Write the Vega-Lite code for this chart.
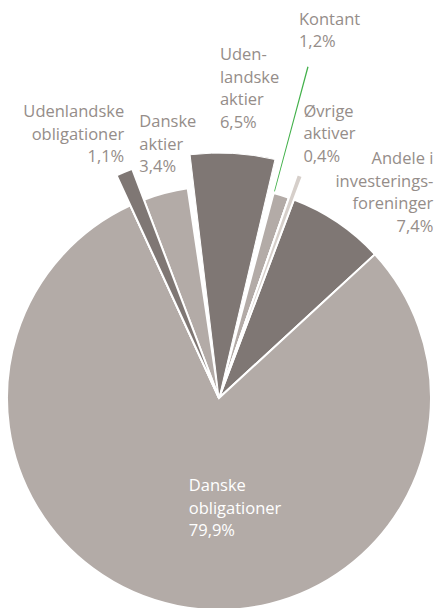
{
  "$schema": "https://vega.github.io/schema/vega-lite/v6.json",
  "width": 438,
  "height": 420,
  "autosize": {"type": "none"},
  "padding": {"top": 188, "left": 0, "right": 0, "bottom": 0},
  "background": "white",
  "config": {
    "view": {"stroke": null},
    "text": {"font": "Open Sans", "fontSize": 16.5, "lineHeight": 22.5, "lineBreak": "\n", "color": "#958d89", "baseline": "alphabetic"}
  },
  "data": {"values": [
    {"name": "Udenlandske aktier", "value": 6.5, "label": "Uden-\nlandske\naktier\n6,5%", "order": 1},
    {"name": "Kontant", "value": 1.2, "label": "Kontant\n1,2%", "order": 2},
    {"name": "Øvrige aktiver", "value": 0.4, "label": "Øvrige\naktiver\n0,4%", "order": 3},
    {"name": "Andele i investeringsforeninger", "value": 7.4, "label": "Andele i\ninvesterings-\nforeninger\n7,4%", "order": 4},
    {"name": "Danske obligationer", "value": 79.9, "label": "Danske\nobligationer\n79,9%", "order": 5},
    {"name": "Udenlandske obligationer", "value": 1.1, "label": "Udenlandske\nobligationer\n1,1%", "order": 6},
    {"name": "Danske aktier", "value": 3.4, "label": "Danske\naktier\n3,4%", "order": 7}
  ]},
  "encoding": {
    "theta": {"field": "value", "type": "quantitative", "stack": true, "scale": {"domain": [0, 99.9], "range": [-0.14835, 6.13484]}},
    "order": {"field": "order", "type": "quantitative"},
    "detail": {"field": "name", "type": "nominal"}
  },
  "layer": [
    {
      "mark": {"type": "arc", "outerRadius": 212, "stroke": "white", "strokeWidth": 2},
      "encoding": {
        "color": {"field": "name", "type": "nominal", "legend": null,
          "scale": {"domain": ["Udenlandske aktier", "Kontant", "Øvrige aktiver", "Andele i investeringsforeninger", "Danske obligationer", "Udenlandske obligationer", "Danske aktier"],
                    "range": ["#7f7774", "#b3aba7", "#d6cfca", "#7f7774", "#b3aba7", "#7f7774", "#b3aba7"]}},
        "opacity": {"condition": {"test": "datum.name === 'Udenlandske aktier'", "value": 0}, "value": 1}
      }
    },
    {
      "mark": {"type": "arc", "outerRadius": 245, "stroke": "white", "strokeWidth": 2},
      "encoding": {
        "color": {"field": "name", "type": "nominal", "legend": null},
        "opacity": {"condition": {"test": "datum.name === 'Udenlandske obligationer'", "value": 1}, "value": 0}
      }
    },
    {
      "mark": {"type": "arc", "outerRadius": 245, "padAngle": 0.06, "stroke": "white", "strokeWidth": 1},
      "encoding": {
        "color": {"field": "name", "type": "nominal", "legend": null},
        "opacity": {"condition": {"test": "datum.name === 'Udenlandske aktier'", "value": 1}, "value": 0}
      }
    },
    {
      "mark": {"type": "arc", "outerRadius": 237, "stroke": "white", "strokeWidth": 2},
      "encoding": {
        "color": {"field": "name", "type": "nominal", "legend": null},
        "opacity": {"condition": {"test": "datum.name === 'Øvrige aktiver'", "value": 1}, "value": 0}
      }
    },
    {
      "transform": [{"filter": "datum.name === 'Kontant'"}],
      "mark": {"type": "arc", "innerRadius": 214, "outerRadius": 343, "color": "#43b14b"},
      "encoding": {
        "theta": {"datum": 6.5},
        "theta2": {"datum": 6.56}
      }
    },
    {
      "mark": {"type": "text", "radius": 297, "dx": 20, "dy": -7, "align": "right"},
      "encoding": {"text": {"condition": {"test": "datum.name === 'Udenlandske obligationer'", "field": "label", "type": "nominal"}, "value": ""}}
    },
    {
      "mark": {"type": "text", "radius": 282, "dx": -8.5, "dy": 2, "align": "left"},
      "encoding": {"text": {"condition": {"test": "datum.name === 'Danske aktier'", "field": "label", "type": "nominal"}, "value": ""}}
    },
    {
      "mark": {"type": "text", "radius": 338, "dx": -18, "dy": -0.5, "align": "left"},
      "encoding": {"text": {"condition": {"test": "datum.name === 'Udenlandske aktier'", "field": "label", "type": "nominal"}, "value": ""}}
    },
    {
      "mark": {"type": "text", "radius": 381, "dx": -32, "dy": -9, "align": "left"},
      "encoding": {"text": {"condition": {"test": "datum.name === 'Kontant'", "field": "label", "type": "nominal"}, "value": ""}}
    },
    {
      "mark": {"type": "text", "radius": 294, "dx": -16, "dy": -5, "align": "left"},
      "encoding": {"text": {"condition": {"test": "datum.name === 'Øvrige aktiver'", "field": "label", "type": "nominal"}, "value": ""}}
    },
    {
      "mark": {"type": "text", "radius": 317, "dx": 37, "dy": 29, "align": "right"},
      "encoding": {"text": {"condition": {"test": "datum.name === 'Andele i investeringsforeninger'", "field": "label", "type": "nominal"}, "value": ""}}
    },
    {
      "mark": {"type": "text", "radius": 98, "dx": -11, "dy": -3, "align": "left", "color": "white"},
      "encoding": {"text": {"condition": {"test": "datum.name === 'Danske obligationer'", "field": "label", "type": "nominal"}, "value": ""}}
    }
  ]
}
